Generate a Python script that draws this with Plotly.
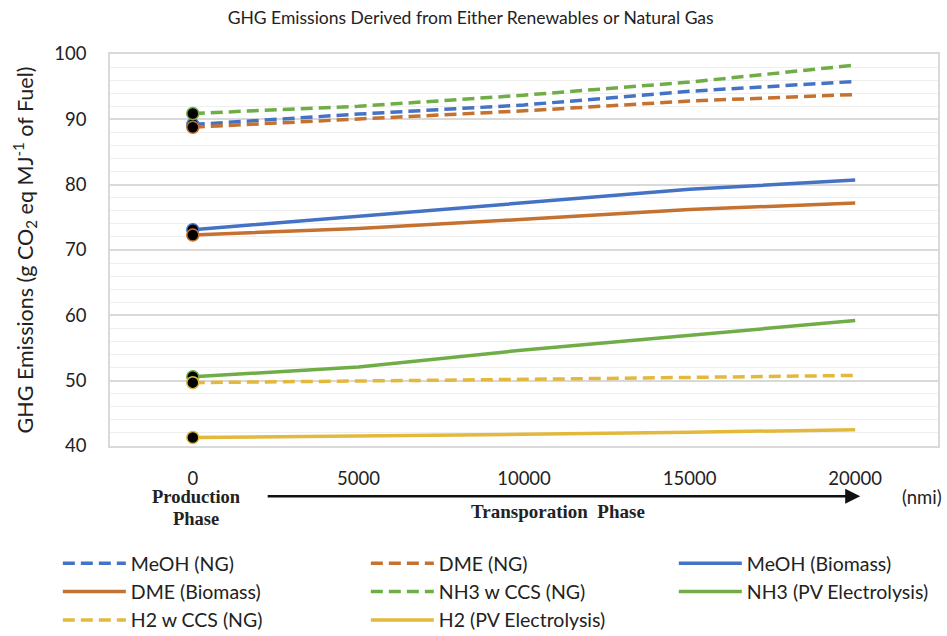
import plotly.graph_objects as go

distance_nmi = [0, 5000, 10000, 15000, 20000]
x_tick_labels = ["0", "5000", "10000", "15000", "20000"]

meoh_ng = [89.2, 90.8, 92.2, 94.3, 95.8]
dme_ng = [88.8, 90.1, 91.3, 92.8, 93.8]
meoh_biomass = [73.1, 75.2, 77.3, 79.3, 80.7]
dme_biomass = [72.3, 73.3, 74.7, 76.2, 77.2]
nh3_ccs_ng = [90.9, 92.0, 93.7, 95.7, 98.3]
nh3_pv = [50.6, 52.1, 54.7, 57.0, 59.2]
h2_ccs_ng = [49.7, 49.9, 50.2, 50.5, 50.8]
h2_pv = [41.3, 41.5, 41.8, 42.1, 42.5]

BLUE = "#4472C4"
ORANGE = "#C5712F"
GREEN = "#70AD47"
YELLOW = "#E3B93D"

series = [
    ("MeOH (NG)", meoh_ng, BLUE, True),
    ("DME (NG)", dme_ng, ORANGE, True),
    ("MeOH (Biomass)", meoh_biomass, BLUE, False),
    ("DME (Biomass)", dme_biomass, ORANGE, False),
    ("NH3 w CCS (NG)", nh3_ccs_ng, GREEN, True),
    ("NH3 (PV Electrolysis)", nh3_pv, GREEN, False),
    ("H2 w CCS (NG)", h2_ccs_ng, YELLOW, True),
    ("H2 (PV Electrolysis)", h2_pv, YELLOW, False),
]

SANS = "Lato, 'Open Sans', sans-serif"
SERIF = "'Liberation Serif', 'Times New Roman', serif"

fig = go.Figure()
for name, vals, color, dashed in series:
    fig.add_trace(go.Scatter(
        x=distance_nmi, y=vals, name=name, mode="lines",
        line=dict(color=color, width=3.5, dash="12px,6px" if dashed else "solid"),
    ))
# start-point markers (production phase)
for name, vals, color, dashed in series:
    fig.add_trace(go.Scatter(
        x=distance_nmi[:1], y=vals[:1], mode="markers", showlegend=False,
        marker=dict(color="black", size=12, line=dict(color=color, width=1.5)),
        hoverinfo="skip",
    ))

fig.update_layout(
    width=947, height=636,
    margin=dict(l=110, r=9, t=54, b=190, autoexpand=False),
    paper_bgcolor="white", plot_bgcolor="white",
    font=dict(family=SANS, size=17, color="#222"),
    title=dict(text="GHG Emissions Derived from Either Renewables or Natural Gas",
               x=0.497, xanchor="center", y=0.972, yanchor="middle",
               font=dict(family=SANS, size=17.5, color="#222")),
    showlegend=True,
    legend=dict(orientation="h", x=-0.063, xanchor="left", y=-0.25, yanchor="top",
                entrywidth=230, entrywidthmode="pixels",
                font=dict(family=SANS, size=19.5, color="#222"),
                itemwidth=63, tracegroupgap=0),
)

fig.update_xaxes(
    range=[-2500, 22500], tickvals=distance_nmi, ticktext=x_tick_labels,
    showgrid=False, zeroline=False,
    showline=True, linecolor="#d9d9d9", linewidth=1.5, mirror=True,
    ticks="outside", ticklen=15, tickcolor="rgba(0,0,0,0)",
    tickfont=dict(family=SANS, size=18.5, color="#222"),
)
fig.update_yaxes(
    range=[40, 100], dtick=10, tick0=40,
    showgrid=True, gridcolor="#d9d9d9", gridwidth=1.5,
    minor=dict(dtick=2, showgrid=True, gridcolor="#efefef", gridwidth=1),
    zeroline=False,
    showline=True, linecolor="#d9d9d9", linewidth=1.5, mirror=True,
    ticks="outside", ticklen=18, tickcolor="rgba(0,0,0,0)",
    tickfont=dict(family=SANS, size=18.5, color="#222"),
    title=dict(text="GHG Emissions (g CO<sub>2</sub> eq MJ<sup>-1</sup> of Fuel)",
               font=dict(family=SANS, size=21.5, color="#222"), standoff=15),
)

fig.add_annotation(xref="paper", yref="paper", x=0.104, y=-0.131,
                   xanchor="center", yanchor="middle", borderpad=0,
                   text="<b>Production</b>", showarrow=False,
                   font=dict(family=SERIF, size=18.5, color="#222"))
fig.add_annotation(xref="paper", yref="paper", x=0.104, y=-0.186,
                   xanchor="center", yanchor="middle", borderpad=0,
                   text="<b>Phase</b>", showarrow=False,
                   font=dict(family=SERIF, size=18.5, color="#222"))
fig.add_annotation(xref="paper", yref="paper", x=0.541, y=-0.168,
                   xanchor="center", yanchor="middle",
                   text="<b>Transporation  Phase</b>", showarrow=False,
                   font=dict(family=SERIF, size=19, color="#222"))
fig.add_annotation(xref="paper", yref="paper", x=0.981, y=-0.130,
                   xanchor="center", yanchor="middle",
                   text="(nmi)", showarrow=False,
                   font=dict(family=SANS, size=18.5, color="#222"))
fig.add_annotation(xref="paper", yref="paper", x=0.906, y=-0.128,
                   ax=-594, ay=0, text="", showarrow=True,
                   arrowhead=2, arrowsize=1.2, arrowwidth=2.5, arrowcolor="#111")

fig.write_html("out.html", config={"displayModeBar": False},
               post_script="document.body.style.margin='0';")
